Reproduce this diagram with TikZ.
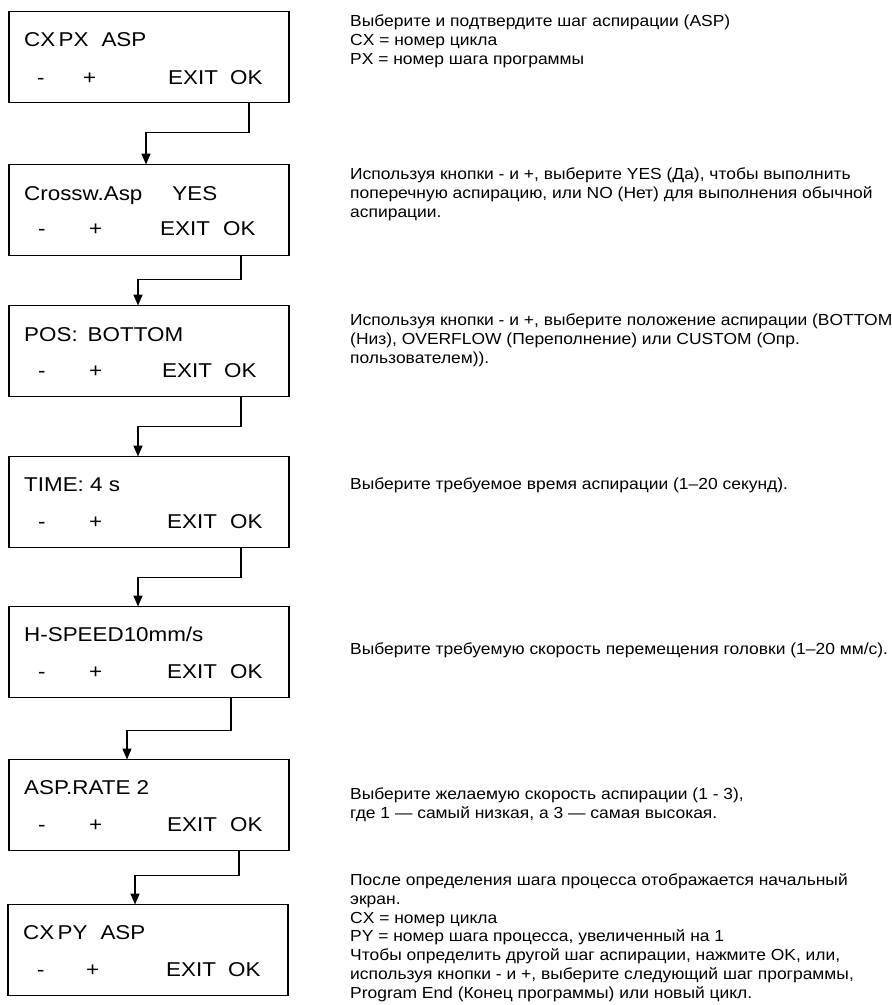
\documentclass[tikz,border=0pt]{standalone}
\usepackage{fontspec}
\setmainfont{Liberation Sans}[FakeStretch=1.09]
\newfontfamily\lcdfont[FakeStretch=1.12]{Liberation Sans}
\usetikzlibrary{arrows.meta,positioning}

\begin{document}
\begin{tikzpicture}[x=1pt,y=-1pt,
    >={Triangle[length=11pt,width=9pt]},
    lcd/.style={draw,line width=1.3pt,minimum width=280pt,minimum height=91pt,
                inner sep=0pt,outer sep=0pt},
    lbl/.style={anchor=base west,inner sep=0pt,font=\lcdfont\fontsize{20}{24}\selectfont},
    desc/.style={anchor=base west,inner sep=0pt,align=left,
                 font=\fontsize{16}{18.7}\selectfont},
    flow/.style={->,line width=1.6pt}]
  \useasboundingbox (0,0) rectangle (892,1005);
  % display screens
  \node[lcd] (b1) at (149,57) {};
  \node[lcd,below=62pt of b1] (b2) {};
  \node[lcd,below=50pt of b2] (b3) {};
  \node[lcd,below=60pt of b3] (b4) {};
  \node[lcd,below=59pt of b4] (b5) {};
  \node[lcd,below=62pt of b5] (b6) {};
  \node[lcd,below=54pt of b6,xshift=-1pt] (b7) {};
  % screen texts
  \node[lbl] (t1) at ([shift={(15pt,-35pt)}]b1.north west) {CX\,PX\hspace{13pt}ASP};
  \node[lbl] (m1) at ([shift={(28pt,-73pt)}]b1.north west) {-};
  \node[lbl] (p1) at ([shift={(74pt,-73pt)}]b1.north west) {+};
  \node[lbl] (e1) at ([shift={(159pt,-73pt)}]b1.north west) {EXIT};
  \node[lbl] (o1) at ([shift={(221pt,-73pt)}]b1.north west) {OK};
  \node[lbl] (t2) at ([shift={(15pt,-36pt)}]b2.north west) {Crossw.Asp\hspace{30pt}YES};
  \node[lbl] (m2) at ([shift={(29pt,-71pt)}]b2.north west) {-};
  \node[lbl] (p2) at ([shift={(80pt,-71pt)}]b2.north west) {+};
  \node[lbl] (e2) at ([shift={(151pt,-71pt)}]b2.north west) {EXIT};
  \node[lbl] (o2) at ([shift={(214pt,-71pt)}]b2.north west) {OK};
  \node[lbl] (t3) at ([shift={(15pt,-36pt)}]b3.north west) {POS:\hspace{10pt}BOTTOM};
  \node[lbl] (m3) at ([shift={(29pt,-72pt)}]b3.north west) {-};
  \node[lbl] (p3) at ([shift={(80pt,-72pt)}]b3.north west) {+};
  \node[lbl] (e3) at ([shift={(153pt,-72pt)}]b3.north west) {EXIT};
  \node[lbl] (o3) at ([shift={(215pt,-72pt)}]b3.north west) {OK};
  \node[lbl] (t4) at ([shift={(15pt,-35pt)}]b4.north west) {TIME: 4 s};
  \node[lbl] (m4) at ([shift={(29pt,-72pt)}]b4.north west) {-};
  \node[lbl] (p4) at ([shift={(80pt,-72pt)}]b4.north west) {+};
  \node[lbl] (e4) at ([shift={(158pt,-72pt)}]b4.north west) {EXIT};
  \node[lbl] (o4) at ([shift={(221pt,-72pt)}]b4.north west) {OK};
  \node[lbl] (t5) at ([shift={(15pt,-35pt)}]b5.north west) {H-SPEED10mm/s};
  \node[lbl] (m5) at ([shift={(29pt,-72pt)}]b5.north west) {-};
  \node[lbl] (p5) at ([shift={(80pt,-72pt)}]b5.north west) {+};
  \node[lbl] (e5) at ([shift={(158pt,-72pt)}]b5.north west) {EXIT};
  \node[lbl] (o5) at ([shift={(221pt,-72pt)}]b5.north west) {OK};
  \node[lbl] (t6) at ([shift={(15pt,-35pt)}]b6.north west) {ASP.RATE 2};
  \node[lbl] (m6) at ([shift={(29pt,-72pt)}]b6.north west) {-};
  \node[lbl] (p6) at ([shift={(80pt,-72pt)}]b6.north west) {+};
  \node[lbl] (e6) at ([shift={(158pt,-72pt)}]b6.north west) {EXIT};
  \node[lbl] (o6) at ([shift={(221pt,-72pt)}]b6.north west) {OK};
  \node[lbl] (t7) at ([shift={(15pt,-35pt)}]b7.north west) {CX\,PY\hspace{13pt}ASP};
  \node[lbl] (m7) at ([shift={(29pt,-72pt)}]b7.north west) {-};
  \node[lbl] (p7) at ([shift={(78pt,-72pt)}]b7.north west) {+};
  \node[lbl] (e7) at ([shift={(158pt,-72pt)}]b7.north west) {EXIT};
  \node[lbl] (o7) at ([shift={(220pt,-72pt)}]b7.north west) {OK};
  % descriptions (placed at the baseline of their last line)
  \node[desc] (d1) at (350,64) {Выберите и подтвердите шаг аспирации (ASP)\\
    CX = номер цикла\\PX = номер шага программы};
  \node[desc] (d2) at (350,217) {Используя кнопки - и +, выберите YES (Да), чтобы выполнить\\
    поперечную аспирацию, или NO (Нет) для выполнения обычной\\аспирации.};
  \node[desc] (d3) at (350,363) {Используя кнопки - и +, выберите положение аспирации (BOTTOM\\
    (Низ), OVERFLOW (Переполнение) или CUSTOM (Опр.\\пользователем)).};
  \node[desc] (d4) at (350,489) {Выберите требуемое время аспирации (1–20 секунд).};
  \node[desc] (d5) at (350,654) {Выберите требуемую скорость перемещения головки (1–20 мм/с).};
  \node[desc] (d6) at (350,818) {Выберите желаемую скорость аспирации (1 - 3),\\
    где 1 — самый низкая, а 3 — самая высокая.};
  \node[desc] (d7) at (350,998) {После определения шага процесса отображается начальный\\
    экран.\\CX = номер цикла\\PY = номер шага процесса, увеличенный на 1\\
    Чтобы определить другой шаг аспирации, нажмите OK, или,\\
    используя кнопки - и +, выберите следующий шаг программы,\\
    Program End (Конец программы) или новый цикл.};
  % OK leads to the next screen
  \draw[flow] ([xshift=-40pt]b1.south east) |- ([shift={(137pt,32pt)}]b2.north west) -- ([xshift=137pt]b2.north west);
  \draw[flow] ([xshift=-48pt]b2.south east) |- ([shift={(129pt,26pt)}]b3.north west) -- ([xshift=129pt]b3.north west);
  \draw[flow] ([xshift=-48pt]b3.south east) |- ([shift={(129pt,30pt)}]b4.north west) -- ([xshift=129pt]b4.north west);
  \draw[flow] ([xshift=-48pt]b4.south east) |- ([shift={(129pt,29pt)}]b5.north west) -- ([xshift=129pt]b5.north west);
  \draw[flow] ([xshift=-58pt]b5.south east) |- ([shift={(118pt,29pt)}]b6.north west) -- ([xshift=118pt]b6.north west);
  \draw[flow] ([xshift=-50pt]b6.south east) |- ([shift={(127pt,29pt)}]b7.north west) -- ([xshift=127pt]b7.north west);
\end{tikzpicture}
\end{document}
